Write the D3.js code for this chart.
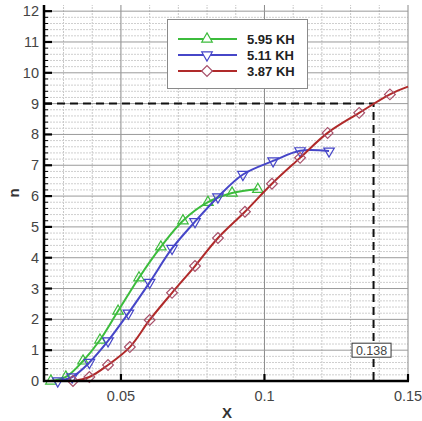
<!DOCTYPE html>
<html>
<head>
<meta charset="utf-8">
<script src="https://cdn.jsdelivr.net/npm/d3@7"></script>
<style>
  html, body { margin: 0; padding: 0; background: #fff; }
  svg { display: block; font-family: "Liberation Sans", Arial, sans-serif; }
</style>
</head>
<body>
<svg id="chart" width="422" height="421"></svg>
<script>
// Series data: X versus n for three KH values
const seriesNames = ["5.95 KH", "5.11 KH", "3.87 KH"];

const x595 = [0.0256, 0.0308, 0.0368, 0.0427, 0.0490, 0.0563, 0.0639, 0.0716, 0.0803, 0.0887, 0.0977];
const n595 = [0.00, 0.13, 0.65, 1.33, 2.27, 3.35, 4.35, 5.20, 5.80, 6.10, 6.22];

const x511 = [0.0280, 0.0330, 0.0390, 0.0455, 0.0526, 0.0600, 0.0678, 0.0758, 0.0838, 0.0925, 0.1030, 0.1124, 0.1225];
const n511 = [0.00, 0.13, 0.60, 1.30, 2.20, 3.20, 4.30, 5.17, 5.97, 6.70, 7.14, 7.47, 7.46];

const x387 = [0.0333, 0.0390, 0.0455, 0.0531, 0.0600, 0.0678, 0.0758, 0.0838, 0.0932, 0.1026, 0.1124, 0.1220, 0.1330, 0.1437, 0.1500];
const n387 = [0.00, 0.13, 0.52, 1.10, 1.98, 2.86, 3.73, 4.64, 5.49, 6.40, 7.24, 8.05, 8.70, 9.30, 9.55];

// Reference point
const refX = 0.138;
const refN = 9;

const xTicks = [0.05, 0.1, 0.15];
const xTickLabels = ["0.05", "0.1", "0.15"];
const yTicks = [0, 1, 2, 3, 4, 5, 6, 7, 8, 9, 10, 11, 12];

const svg = d3.select("#chart");

const x = d3.scaleLinear().domain([0.0232, 0.15]).range([44, 408]);
const y = d3.scaleLinear().domain([0, 12.2]).range([381, 5]);

const series = [
  { name: seriesNames[0], xs: x595, ns: n595, color: "#3cbc3c", mcolor: "#3cbc3c", symbol: "up" },
  { name: seriesNames[1], xs: x511, ns: n511, color: "#4646c8", mcolor: "#4646c8", symbol: "down" },
  { name: seriesNames[2], xs: x387, ns: n387, color: "#b02a2a", mcolor: "#a8506a", symbol: "diamond" }
];

// ---- grid ----
const grid = svg.append("g");
const minorX = d3.range(0.03, 0.1501, 0.01).filter(v => Math.abs((v * 100) % 5) > 0.01 && Math.abs((v * 100) % 5 - 5) > 0.01);
grid.selectAll(".mx").data(minorX).join("line")
  .attr("x1", d => x(d)).attr("x2", d => x(d))
  .attr("y1", y(0)).attr("y2", y(12.2))
  .attr("stroke", "#c8c8c8").attr("stroke-width", 1).attr("stroke-dasharray", "2,1");
const minorY = d3.range(0, 61).map(i => i * 0.2).filter(v => Math.abs(v - Math.round(v)) > 0.01 && v < 12.2);
grid.selectAll(".my").data(minorY).join("line")
  .attr("x1", x.range()[0]).attr("x2", x.range()[1])
  .attr("y1", d => y(d)).attr("y2", d => y(d))
  .attr("stroke", "#cfcfcf").attr("stroke-width", 1).attr("stroke-dasharray", "2,1");
grid.selectAll(".gx").data(xTicks).join("line")
  .attr("x1", d => x(d)).attr("x2", d => x(d))
  .attr("y1", y(0)).attr("y2", y(12.2))
  .attr("stroke", "#8a8a8a").attr("stroke-width", 1);
grid.selectAll(".gy").data(yTicks.filter(v => v > 0)).join("line")
  .attr("x1", x.range()[0]).attr("x2", x.range()[1])
  .attr("y1", d => y(d)).attr("y2", d => y(d))
  .attr("stroke", "#9a9a9a").attr("stroke-width", 1);

// ---- dashed reference lines ----
svg.append("path")
  .attr("d", `M${x.range()[0]},${y(refN)}H${x(refX)}V${y(0)}`)
  .attr("fill", "none").attr("stroke", "#111").attr("stroke-width", 2)
  .attr("stroke-dasharray", "8,5");

// ---- curves ----
const line = d3.line().x(d => x(d[0])).y(d => y(d[1])).curve(d3.curveCatmullRom.alpha(0.5));
const symbolPath = s => {
  if (s === "diamond") return d3.symbol(d3.symbolSquare, 58)();
  return d3.symbol(d3.symbolTriangle, 48)();
};
const rotation = s => s === "down" ? 180 : (s === "diamond" ? 45 : 0);

series.forEach(s => {
  const pts = s.xs.map((v, i) => [v, s.ns[i]]);
  svg.append("path").datum(pts).attr("d", line)
    .attr("fill", "none").attr("stroke", s.color).attr("stroke-width", 2);
  svg.append("g").selectAll("path").data(pts.filter(p => p[0] < x.domain()[1])).join("path")
    .attr("d", symbolPath(s.symbol))
    .attr("transform", d => `translate(${x(d[0])},${y(d[1])}) rotate(${rotation(s.symbol)})`)
    .attr("fill", "none").attr("stroke", s.mcolor).attr("stroke-width", 1.2);
});

// ---- value box on the vertical reference line ----
const boxG = svg.append("g").attr("transform", `translate(${x(refX) - 2},${y(1)})`);
boxG.append("rect").attr("x", -19.5).attr("y", -7).attr("width", 39).attr("height", 14)
  .attr("fill", "#fff").attr("stroke", "#333").attr("stroke-width", 1);
boxG.append("text").attr("text-anchor", "middle").attr("y", 4.5)
  .attr("font-size", 12.5).attr("fill", "#444").text(d3.format(".3f")(refX));

// ---- axes ----
const axes = svg.append("g");
axes.append("line").attr("x1", x.range()[0]).attr("x2", x.range()[0])
  .attr("y1", y(0) + 1).attr("y2", y(12.2)).attr("stroke", "#000").attr("stroke-width", 2.5);
axes.append("line").attr("x1", x.range()[0] - 1).attr("x2", x.range()[1] + 1)
  .attr("y1", y(0)).attr("y2", y(0)).attr("stroke", "#000").attr("stroke-width", 2.5);
// y ticks: major and minor, pointing inward
axes.selectAll(".ty").data(yTicks.filter(v => v > 0)).join("line")
  .attr("x1", x.range()[0]).attr("x2", x.range()[0] + 8)
  .attr("y1", d => y(d)).attr("y2", d => y(d)).attr("stroke", "#000").attr("stroke-width", 2.2);
axes.selectAll(".tym").data(minorY).join("line")
  .attr("x1", x.range()[0]).attr("x2", x.range()[0] + 4)
  .attr("y1", d => y(d)).attr("y2", d => y(d)).attr("stroke", "#000").attr("stroke-width", 1);
axes.selectAll(".tx").data(xTicks).join("line")
  .attr("x1", d => x(d)).attr("x2", d => x(d))
  .attr("y1", y(0)).attr("y2", y(0) - 7).attr("stroke", "#000").attr("stroke-width", 2.2);

// tick labels
axes.selectAll(".ly").data(yTicks).join("text")
  .attr("x", 39).attr("y", d => y(d) + 5).attr("text-anchor", "end")
  .attr("font-size", 14.5).attr("fill", "#444").text(d => d);
axes.selectAll(".lx").data(xTicks).join("text")
  .attr("x", d => x(d)).attr("y", 401).attr("text-anchor", "middle")
  .attr("font-size", 14.5).attr("fill", "#444").text((d, i) => xTickLabels[i]);

// axis titles
svg.append("text").attr("x", 227).attr("y", 418).attr("text-anchor", "middle")
  .attr("font-size", 15).attr("font-weight", "bold").attr("fill", "#333").text("X");
svg.append("text").attr("transform", `translate(19,${(y(0) + y(12.2)) / 2}) rotate(-90)`)
  .attr("text-anchor", "middle").attr("font-size", 15).attr("font-weight", "bold")
  .attr("fill", "#333").text("n");

// ---- legend ----
const lg = svg.append("g");
lg.append("rect").attr("x", 167.5).attr("y", 19.5).attr("width", 140).attr("height", 69)
  .attr("fill", "#fff").attr("stroke", "#8a8a8a").attr("stroke-width", 1);
series.forEach((s, i) => {
  const yy = 39 + i * 16;
  lg.append("line").attr("x1", 178).attr("x2", 237).attr("y1", yy).attr("y2", yy)
    .attr("stroke", s.color).attr("stroke-width", 2);
  lg.append("path").attr("d", symbolPath(s.symbol))
    .attr("transform", `translate(207,${yy}) rotate(${rotation(s.symbol)})`)
    .attr("fill", "#fff").attr("stroke", s.mcolor).attr("stroke-width", 1.2);
  lg.append("text").attr("x", 247).attr("y", yy + 4.5)
    .attr("font-size", 13).attr("font-weight", "bold").attr("fill", "#222").text(s.name);
});
</script>
</body>
</html>
